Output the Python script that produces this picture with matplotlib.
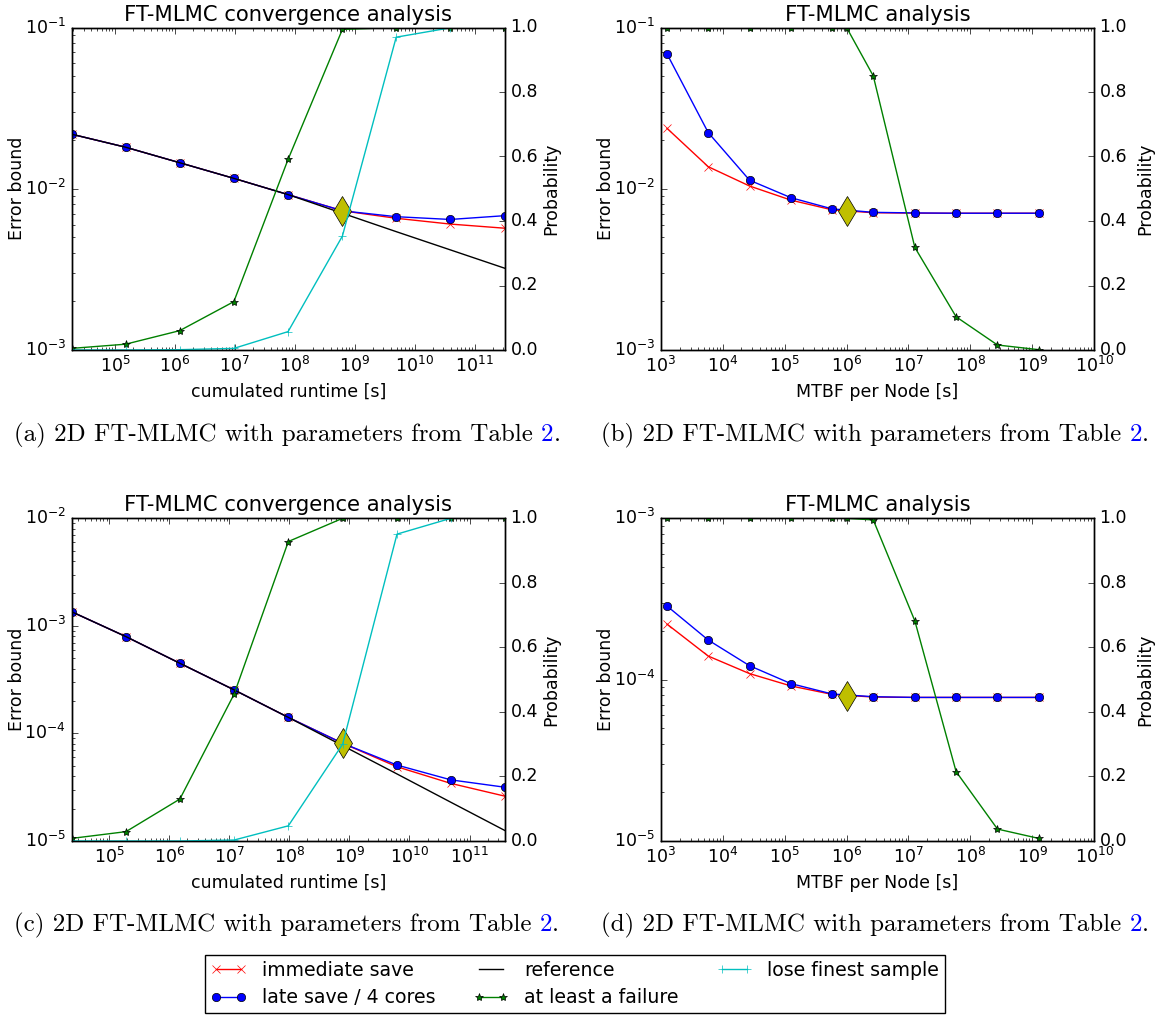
import matplotlib
matplotlib.use('Agg')
import matplotlib.pyplot as plt

# values
runtime_a = [1.88e4, 1.5e5, 1.2e6, 9.6e6, 7.7e7, 6.2e8, 4.9e9, 3.9e10, 3.2e11]
err_immediate_a = [0.0218, 0.0181, 0.0145, 0.0116, 0.0092, 0.0073, 0.00656, 0.00604, 0.00569]
err_late_a = [0.0218, 0.0181, 0.0145, 0.0116, 0.0092, 0.0073, 0.00671, 0.00645, 0.00681]
ref_a = [0.0218, 0.0181, 0.0145, 0.0116, 0.0092, 0.00705, 0.00542, 0.00418, 0.00321]
fail_a = [0.005, 0.018, 0.060, 0.150, 0.591, 0.994, 1.0, 1.0, 1.0]
lose_a = [0.0, 0.0, 0.001, 0.005, 0.057, 0.353, 0.970, 0.999, 1.0]
tol_a = (6.2e8, 0.00731)

runtime_c = [2.35e4, 1.9e5, 1.5e6, 1.2e7, 9.6e7, 7.7e8, 6.2e9, 4.9e10, 3.9e11]
err_immediate_c = [1.355e-3, 7.94e-4, 4.49e-4, 2.54e-4, 1.41e-4, 8.1e-5, 4.9e-5, 3.43e-5, 2.61e-5]
err_late_c = [1.355e-3, 7.94e-4, 4.49e-4, 2.54e-4, 1.41e-4, 8.1e-5, 5.08e-5, 3.70e-5, 3.16e-5]
ref_c = [1.355e-3, 7.94e-4, 4.49e-4, 2.54e-4, 1.41e-4, 7.7e-5, 4.2e-5, 2.29e-5, 1.25e-5]
fail_c = [0.008, 0.029, 0.130, 0.455, 0.928, 1.0, 1.0, 1.0, 1.0]
lose_c = [0.0, 0.0, 0.0, 0.003, 0.047, 0.300, 0.951, 1.0, 1.0]
tol_c = (7.7e8, 8.1e-5)

mtbf = [1.25e3, 5.8e3, 2.7e4, 1.26e5, 5.85e5, 2.7e6, 1.27e7, 5.9e7, 2.75e8, 1.28e9]
mtbf_fail = [1.25e3, 5.8e3, 2.7e4, 1.26e5, 5.85e5, 1.0e6, 2.7e6, 1.27e7, 5.9e7, 2.75e8, 1.28e9]

err_immediate_b = [0.0237, 0.0137, 0.0104, 0.0085, 0.0074, 0.0071, 0.00706, 0.00705, 0.00705, 0.00705]
err_late_b = [0.0686, 0.0223, 0.0113, 0.0088, 0.0075, 0.00714, 0.00708, 0.00705, 0.00705, 0.00705]
fail_b = [1.0, 1.0, 1.0, 1.0, 1.0, 1.0, 0.85, 0.318, 0.103, 0.0155, 0.001]
tol_b = (1.0e6, 0.00731)

err_immediate_d = [2.21e-4, 1.40e-4, 1.09e-4, 9.14e-5, 8.1e-5, 7.8e-5, 7.76e-5, 7.76e-5, 7.76e-5, 7.76e-5]
err_late_d = [2.86e-4, 1.76e-4, 1.22e-4, 9.45e-5, 8.15e-5, 7.84e-5, 7.76e-5, 7.76e-5, 7.76e-5, 7.76e-5]
fail_d = [1.0, 1.0, 1.0, 1.0, 1.0, 1.0, 0.995, 0.682, 0.215, 0.037, 0.008]
tol_d = (1.0e6, 7.96e-5)

plt.style.use('classic')
plt.rcParams.update({
    'figure.facecolor': 'white',
    'savefig.facecolor': 'white',
    'font.family': 'DejaVu Sans',
    'font.size': 12.5,
    'mathtext.fontset': 'dejavusans',
})

fig = plt.figure(figsize=(11.58, 10.15), dpi=100)
W, H = 1158, 1015


def make_axes(left, top, right, bottom):
    return fig.add_axes([left / W, 1 - bottom / H, (right - left) / W, (bottom - top) / H])


def runtime_panel(ax, x, imm, late, ref, fail, lose, tol, ylim):
    ax.plot(x, imm, 'r-x', label='immediate save')
    ax.plot(x, late, 'b-o', label='late save / 4 cores')
    ax.plot(x, ref, 'k-', label='reference')
    ax.plot(*tol, 'yd', markersize=15)
    ax.set_xscale('log')
    ax.set_yscale('log')
    ax.set_xlim(x[0], x[-1])
    ax.set_ylim(*ylim)
    ax.set_title('FT-MLMC convergence analysis', fontsize=15.2)
    ax.set_xlabel('cumulated runtime [s]')
    ax.set_ylabel('Error bound')
    ax2 = ax.twinx()
    ax2.plot(x, fail, 'g-*', label='at least a failure')
    ax2.plot(x, lose, 'c-+', label='lose finest sample')
    ax2.set_ylim(0, 1)
    ax2.set_ylabel('Probability')
    ax.yaxis.set_label_coords(-0.104, 0.5)
    ax2.yaxis.set_label_coords(1.085, 0.5)
    return ax2


def mtbf_panel(ax, imm, late, fail, tol, ylim):
    ax.plot(mtbf, imm, 'r-x')
    ax.plot(mtbf, late, 'b-o')
    ax.plot(*tol, 'yd', markersize=15)
    ax.set_xscale('log')
    ax.set_yscale('log')
    ax.set_xlim(1e3, 1e10)
    ax.set_ylim(*ylim)
    ax.set_title('FT-MLMC analysis', fontsize=15.2)
    ax.set_xlabel('MTBF per Node [s]')
    ax.set_ylabel('Error bound')
    ax2 = ax.twinx()
    ax2.plot(mtbf_fail, fail, 'g-*')
    ax2.set_ylim(0, 1)
    ax2.set_ylabel('Probability')
    ax.yaxis.set_label_coords(-0.106, 0.5)
    ax2.yaxis.set_label_coords(1.097, 0.5)


ax_a = make_axes(71.5, 27.5, 505, 350)
ax_b = make_axes(661, 27.5, 1094, 350)
ax_c = make_axes(71.5, 518.3, 505, 841)
ax_d = make_axes(661, 518.3, 1094, 841)

tw_a = runtime_panel(ax_a, runtime_a, err_immediate_a, err_late_a, ref_a, fail_a, lose_a, tol_a, (1e-3, 1e-1))
runtime_panel(ax_c, runtime_c, err_immediate_c, err_late_c, ref_c, fail_c, lose_c, tol_c, (1e-5, 1e-2))
mtbf_panel(ax_b, err_immediate_b, err_late_b, fail_b, tol_b, (1e-3, 1e-1))
mtbf_panel(ax_d, err_immediate_d, err_late_d, fail_d, tol_d, (1e-5, 1e-3))

h1, l1 = ax_a.get_legend_handles_labels()
h2, l2 = tw_a.get_legend_handles_labels()
fig.legend(h1 + h2, l1 + l2, loc='center', bbox_to_anchor=(575 / W, 1 - 984 / H),
           ncol=3, fontsize=13.6, columnspacing=2.0, handlelength=1.9,
           borderpad=0.3, labelspacing=0.45)

# sub-figure captions, the table number in link blue
renderer = fig.canvas.get_renderer()


def caption(x, y, letter):
    kw = dict(family='cmr10', fontsize=18.0, va='center')
    t = fig.text(x / W, 1 - y / H, '(' + letter + ') 2D FT-MLMC with parameters from Table ', **kw)
    bb = t.get_window_extent(renderer)
    t2 = fig.text(bb.x1 / W, 1 - y / H, '2', color='blue', **kw)
    bb2 = t2.get_window_extent(renderer)
    fig.text(bb2.x1 / W, 1 - y / H, '.', **kw)


caption(14, 435, 'a')
caption(601, 435, 'b')
caption(14, 925, 'c')
caption(601, 925, 'd')

fig.savefig('out.png', dpi=100)
